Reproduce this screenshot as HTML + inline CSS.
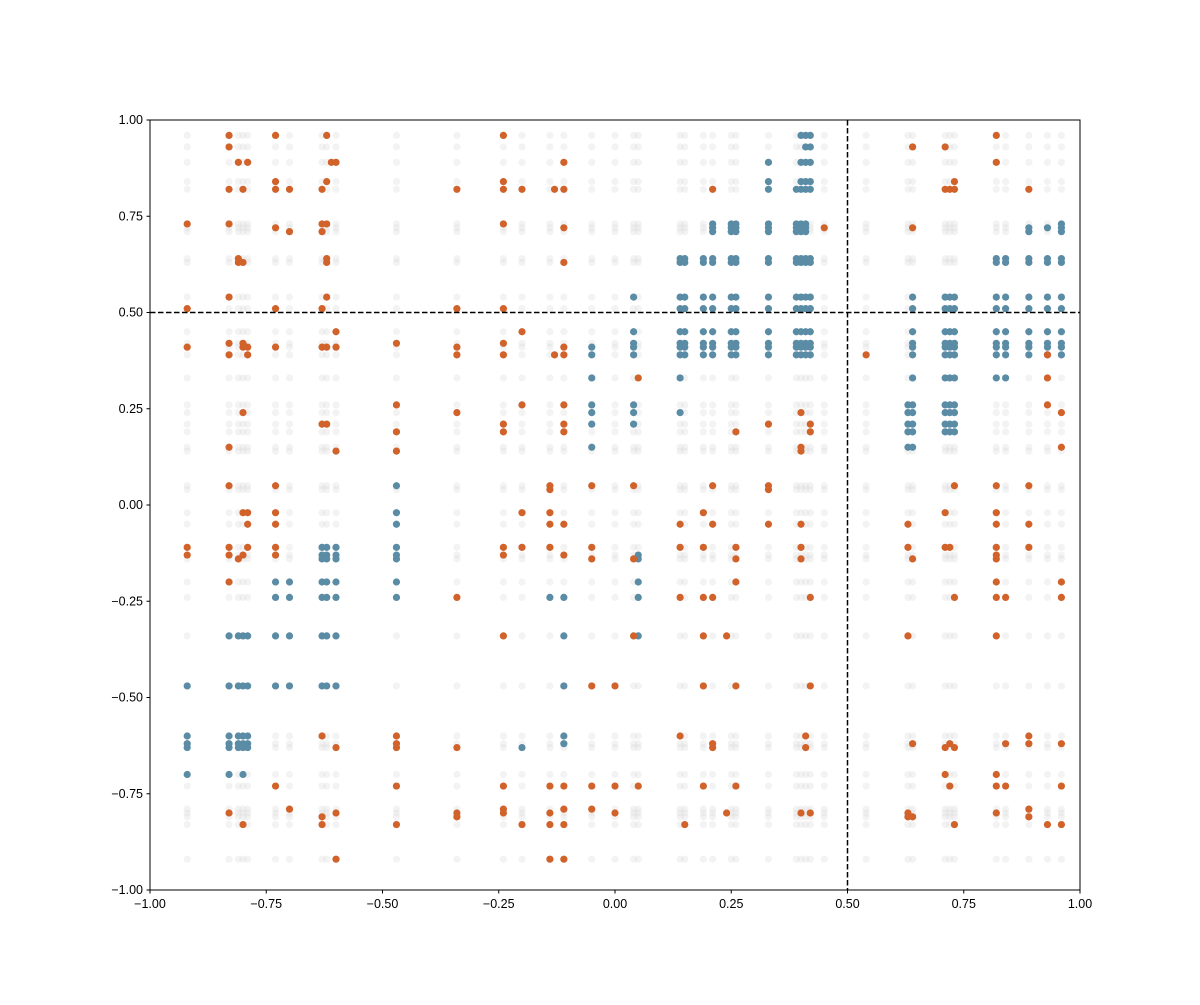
<!DOCTYPE html>
<html><head><meta charset="utf-8"><style>
body{margin:0;background:#fff;}
svg text{font-family:"Liberation Sans",sans-serif;font-size:12.5px;fill:#000}
</style></head><body>
<svg id="s" width="1200" height="1000" xmlns="http://www.w3.org/2000/svg">
<rect x="0" y="0" width="1200" height="1000" fill="#fff"/>
<g id="grey"></g><g id="col"></g>
<rect x="150" y="120" width="930" height="770" fill="none" stroke="#000" stroke-width="1"/>
<line x1="150" y1="312.5" x2="1080" y2="312.5" stroke="#000" stroke-width="1.5" stroke-dasharray="5.5,2.5"/>
<line x1="847.5" y1="120" x2="847.5" y2="890" stroke="#000" stroke-width="1.5" stroke-dasharray="5.5,2.5"/>
<g id="ticks"></g>
</svg>
<script>
const X=v=>150+(v+1)*465, Y=v=>890-(v+1)*385;
const ns="http://www.w3.org/2000/svg";
function c(g,x,y,f,o){const e=document.createElementNS(ns,"circle");e.setAttribute("cx",X(x));e.setAttribute("cy",Y(y));e.setAttribute("r",3.6);e.setAttribute("fill",f);if(o)e.setAttribute("fill-opacity",o);document.getElementById(g).appendChild(e);}
const xs=[-0.92,-0.83,-0.81,-0.80,-0.79,-0.73,-0.70,-0.63,-0.62,-0.60,-0.47,-0.34,-0.24,-0.20,-0.14,-0.11,-0.05,0.00,0.04,0.05,0.14,0.15,0.19,0.21,0.25,0.26,0.33,0.39,0.40,0.41,0.42,0.45,0.54,0.63,0.64,0.71,0.72,0.73,0.82,0.84,0.89,0.93,0.96];
const ys=[0.96,0.93,0.89,0.84,0.82,0.73,0.72,0.71,0.64,0.63,0.54,0.51,0.45,0.42,0.41,0.39,0.33,0.26,0.24,0.21,0.19,0.15,0.14,0.05,0.04,-0.02,-0.05,-0.11,-0.13,-0.14,-0.20,-0.24,-0.34,-0.47,-0.60,-0.62,-0.63,-0.70,-0.73,-0.79,-0.80,-0.81,-0.83,-0.92];
xs.forEach(x=>ys.forEach(y=>c("grey",x,y,"#d8d8d8",0.3)));
const B="#5b8ca5",O="#d0622a";
const blue=[];
[0.14,0.15,0.19,0.21,0.25,0.26,0.33,0.39,0.40,0.41,0.42].forEach(x=>[0.64,0.63,0.54,0.51,0.45,0.42,0.41,0.39].forEach(y=>blue.push([x,y])));
[0.21,0.25,0.26,0.33,0.39,0.40,0.41].forEach(x=>[0.73,0.72,0.71].forEach(y=>blue.push([x,y])));
[[0.40,0.96],[0.41,0.96],[0.42,0.96],[0.41,0.93],[0.42,0.93],[0.33,0.89],[0.40,0.89],[0.41,0.89],[0.42,0.89],[0.33,0.84],[0.40,0.84],[0.41,0.84],[0.42,0.84],[0.33,0.82],[0.39,0.82],[0.40,0.82],[0.41,0.82],[0.42,0.82],[0.14,0.33],[0.14,0.24]].forEach(p=>blue.push(p));
[0.82,0.84,0.89,0.93,0.96].forEach(x=>[0.64,0.63,0.54,0.51,0.45,0.42,0.41,0.39].forEach(y=>blue.push([x,y])));
[0.64,0.71,0.72,0.73].forEach(x=>[0.54,0.51,0.45,0.42,0.41,0.39].forEach(y=>blue.push([x,y])));
[[0.89,0.72],[0.89,0.71],[0.93,0.72],[0.96,0.73],[0.96,0.72],[0.96,0.71]].forEach(p=>blue.push(p));
[0.63,0.64,0.71,0.72,0.73].forEach(x=>[0.26,0.24,0.21,0.19].forEach(y=>blue.push([x,y])));
[[0.63,0.15],[0.64,0.15],[0.64,0.33],[0.71,0.33],[0.72,0.33],[0.73,0.33],[0.82,0.33],[0.84,0.33]].forEach(p=>blue.push(p));
[[0.04,0.54],[0.04,0.45],[0.04,0.42],[0.04,0.41],[0.04,0.39],[-0.05,0.41],[-0.05,0.39],[-0.05,0.33],[-0.05,0.26],[-0.05,0.24],[-0.05,0.21],[-0.05,0.15],[0.04,0.26],[0.04,0.24],[0.04,0.21],[0.05,-0.13],[0.05,-0.14],[0.05,-0.20],[0.05,-0.24],[0.05,-0.34],[-0.14,-0.24],[-0.11,-0.24],[-0.11,-0.34],[-0.11,-0.47],[-0.11,-0.60],[-0.11,-0.62],[-0.20,-0.63],[-0.47,0.05],[-0.47,-0.02],[-0.47,-0.05],[-0.47,-0.11],[-0.47,-0.13],[-0.47,-0.14],[-0.47,-0.20],[-0.47,-0.24]].forEach(p=>blue.push(p));
[-0.63,-0.62,-0.60].forEach(x=>[-0.11,-0.13,-0.14,-0.20,-0.24,-0.34,-0.47].forEach(y=>blue.push([x,y])));
[-0.73,-0.70].forEach(x=>[-0.20,-0.24,-0.34,-0.47].forEach(y=>blue.push([x,y])));
[-0.83,-0.81,-0.80,-0.79].forEach(x=>[-0.34,-0.47,-0.60,-0.62,-0.63].forEach(y=>blue.push([x,y])));
[[-0.92,-0.47],[-0.92,-0.60],[-0.92,-0.62],[-0.92,-0.63],[-0.92,-0.70],[-0.83,-0.70],[-0.80,-0.70]].forEach(p=>blue.push(p));
blue.forEach(p=>c("col",p[0],p[1],B));
const org=[[-0.83,0.96],[-0.83,0.93],[-0.73,0.96],[-0.62,0.96],[-0.81,0.89],[-0.79,0.89],[-0.61,0.89],[-0.60,0.89],[-0.73,0.84],[-0.62,0.84],[-0.83,0.82],[-0.80,0.82],[-0.73,0.82],[-0.70,0.82],[-0.63,0.82],[-0.92,0.73],[-0.83,0.73],[-0.73,0.72],[-0.70,0.71],[-0.63,0.73],[-0.62,0.73],[-0.63,0.71],[-0.81,0.64],[-0.81,0.63],[-0.80,0.63],[-0.62,0.64],[-0.62,0.63],[-0.83,0.54],[-0.62,0.54],[-0.92,0.51],[-0.73,0.51],[-0.63,0.51],[-0.34,0.82],[-0.34,0.51],[-0.24,0.96],[-0.24,0.84],[-0.24,0.82],[-0.20,0.82],[-0.24,0.73],[-0.24,0.51],[-0.13,0.82],[-0.11,0.82],[-0.11,0.89],[-0.11,0.72],[-0.11,0.63],[0.21,0.82],[0.45,0.72],[0.64,0.93],[0.71,0.93],[0.64,0.72],[0.71,0.82],[0.72,0.82],[0.73,0.82],[0.73,0.84],[0.82,0.96],[0.82,0.89],[0.89,0.82],
[-0.92,0.41],[-0.83,0.42],[-0.83,0.39],[-0.80,0.42],[-0.80,0.41],[-0.79,0.41],[-0.79,0.39],[-0.73,0.41],[-0.63,0.41],[-0.62,0.41],[-0.60,0.45],[-0.60,0.41],[-0.47,0.42],[-0.34,0.41],[-0.34,0.39],[-0.24,0.42],[-0.24,0.39],[-0.20,0.45],[-0.13,0.39],[-0.11,0.41],[-0.11,0.39],[0.05,0.33],[0.54,0.39],[0.93,0.39],[0.93,0.33],[0.93,0.26],[0.96,0.24],[0.96,0.15],
[-0.80,0.24],[-0.83,0.15],[-0.63,0.21],[-0.62,0.21],[-0.60,0.14],[-0.47,0.26],[-0.47,0.19],[-0.47,0.14],[-0.34,0.24],[-0.24,0.21],[-0.24,0.19],[-0.20,0.26],[-0.11,0.26],[-0.11,0.21],[-0.11,0.19],[0.26,0.19],[0.33,0.21],[0.40,0.24],[0.40,0.15],[0.40,0.14],[0.42,0.21],[0.42,0.19],
[-0.83,0.05],[-0.73,0.05],[-0.14,0.05],[-0.14,0.04],[-0.05,0.05],[0.04,0.05],[0.21,0.05],[0.33,0.05],[0.33,0.04],[0.73,0.05],[0.82,0.05],[0.89,0.05],
[-0.80,-0.02],[-0.79,-0.02],[-0.79,-0.05],[-0.73,-0.02],[-0.73,-0.05],[-0.20,-0.02],[-0.14,-0.02],[-0.14,-0.05],[-0.11,-0.05],[0.14,-0.05],[0.19,-0.02],[0.21,-0.05],[0.33,-0.05],[0.40,-0.05],[0.63,-0.05],[0.71,-0.02],[0.82,-0.02],[0.82,-0.05],[0.89,-0.05],
[-0.92,-0.11],[-0.92,-0.13],[-0.83,-0.11],[-0.83,-0.13],[-0.81,-0.14],[-0.80,-0.13],[-0.79,-0.11],[-0.73,-0.11],[-0.73,-0.13],[-0.24,-0.11],[-0.24,-0.13],[-0.20,-0.11],[-0.14,-0.11],[-0.11,-0.13],[-0.05,-0.11],[-0.05,-0.14],[0.04,-0.14],[0.14,-0.11],[0.19,-0.11],[0.26,-0.11],[0.26,-0.14],[0.40,-0.11],[0.40,-0.14],[0.63,-0.11],[0.64,-0.14],[0.71,-0.11],[0.72,-0.11],[0.82,-0.11],[0.82,-0.13],[0.82,-0.14],[0.89,-0.11],
[-0.83,-0.20],[0.26,-0.20],[0.82,-0.20],[0.96,-0.20],[-0.34,-0.24],[0.14,-0.24],[0.19,-0.24],[0.21,-0.24],[0.42,-0.24],[0.73,-0.24],[0.82,-0.24],[0.84,-0.24],[0.96,-0.24],
[-0.24,-0.34],[0.04,-0.34],[0.19,-0.34],[0.24,-0.34],[0.63,-0.34],[0.82,-0.34],[-0.05,-0.47],[0.00,-0.47],[0.19,-0.47],[0.26,-0.47],[0.42,-0.47],
[-0.63,-0.60],[-0.60,-0.63],[-0.47,-0.60],[-0.47,-0.62],[-0.47,-0.63],[-0.34,-0.63],[0.14,-0.60],[0.21,-0.62],[0.21,-0.63],[0.41,-0.60],[0.41,-0.63],[0.64,-0.62],[0.71,-0.63],[0.72,-0.62],[0.73,-0.63],[0.84,-0.62],[0.89,-0.60],[0.89,-0.62],[0.96,-0.62],
[-0.73,-0.73],[-0.47,-0.73],[-0.24,-0.73],[-0.14,-0.73],[-0.11,-0.73],[-0.05,-0.73],[0.00,-0.73],[0.05,-0.73],[0.19,-0.73],[0.26,-0.73],[0.71,-0.70],[0.72,-0.73],[0.82,-0.70],[0.82,-0.73],[0.84,-0.73],[0.96,-0.73],
[-0.83,-0.80],[-0.80,-0.83],[-0.70,-0.79],[-0.63,-0.81],[-0.63,-0.83],[-0.60,-0.80],[-0.47,-0.83],[-0.34,-0.80],[-0.34,-0.81],[-0.24,-0.79],[-0.24,-0.80],[-0.20,-0.83],[-0.14,-0.80],[-0.14,-0.83],[-0.11,-0.79],[-0.11,-0.83],[-0.05,-0.79],[0.00,-0.80],[0.15,-0.83],[0.24,-0.80],[0.40,-0.80],[0.42,-0.80],[0.63,-0.80],[0.63,-0.81],[0.64,-0.81],[0.73,-0.83],[0.82,-0.80],[0.89,-0.79],[0.89,-0.81],[0.93,-0.83],[0.96,-0.83],
[-0.60,-0.92],[-0.14,-0.92],[-0.11,-0.92]];
org.forEach(p=>c("col",p[0],p[1],O));
let t="";
[-1,-0.75,-0.5,-0.25,0,0.25,0.5,0.75,1].forEach(v=>{
 const s=v.toFixed(2).replace("-","\u2212");
 t+=`<line x1="${X(v)}" y1="890" x2="${X(v)}" y2="893.5" stroke="#000"/><text x="${X(v)}" y="908" text-anchor="middle">${s}</text>`;
 t+=`<line x1="146.5" y1="${Y(v)}" x2="150" y2="${Y(v)}" stroke="#000"/><text x="143" y="${Y(v)+4}" text-anchor="end">${s}</text>`;
});
document.getElementById("ticks").innerHTML=t;
</script>
</body></html>
